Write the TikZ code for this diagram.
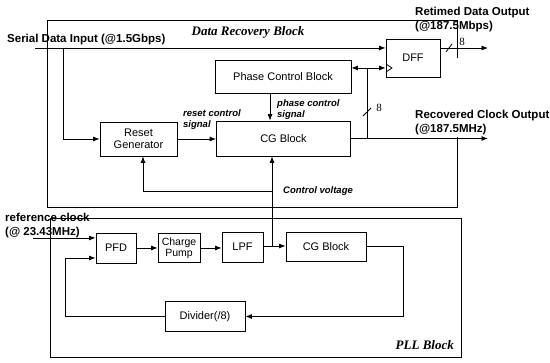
\documentclass[tikz,border=0pt]{standalone}
\usepackage{fontspec}
\setmainfont{Liberation Sans}
\newfontfamily\serifti{Liberation Serif}
\usetikzlibrary{arrows.meta}

\begin{document}
\begin{tikzpicture}[x=1pt,y=-1pt,
  blockbox/.style={draw,line width=0.8pt,inner sep=0pt,font=\fontsize{11}{12}\selectfont},
  wire/.style={line width=0.8pt},
  sig/.style={line width=0.8pt,-{Latex[length=6.5pt,width=5pt]}},
  iolabel/.style={anchor=west,align=left,inner sep=0pt,font=\bfseries\fontsize{11.5}{14}\selectfont},
  siglabel/.style={anchor=west,align=left,inner sep=0pt,font=\bfseries\itshape\fontsize{9.5}{10.5}\selectfont},
  frametitle/.style={inner sep=0pt,font=\serifti\bfseries\itshape\fontsize{13}{15}\selectfont},
  buswidth/.style={inner sep=0pt,font=\serifti\fontsize{11}{12}\selectfont}]
\useasboundingbox (0,0) rectangle (550,363);

% enclosing blocks
\draw[wire] (457,58) -- (457,20) -- (47,20) -- (47,207) -- (457,207) -- (457,137);
\draw[wire] (50,218) rectangle (461,357);
\node[frametitle] (drtitle) at (248,32) {Data Recovery Block};
\node[frametitle,anchor=east] (plltitle) at (454,345) {PLL Block};

% data recovery part
\node[blockbox,minimum width=136pt,minimum height=33pt] (phasectrl) at (283,76.5) {Phase Control Block};
\node[blockbox,minimum width=54pt,minimum height=38pt] (dff) at (413,58) {DFF};
\node[blockbox,minimum width=77pt,minimum height=34pt,align=center] (resetgen) at (138.5,139) {Reset\\Generator};
\node[blockbox,minimum width=134pt,minimum height=35pt] (cgdr) at (283.5,138.5) {CG Block};

% pll part
\node[blockbox,minimum width=40pt,minimum height=30pt] (pfd) at (116,248) {PFD};
\node[blockbox,minimum width=42pt,minimum height=29pt,align=center,font=\fontsize{10.5}{11}\selectfont] (cpump) at (179,248) {Charge\\Pump};
\node[blockbox,minimum width=41pt,minimum height=30pt] (lpf) at (242.5,247) {LPF};
\node[blockbox,minimum width=80pt,minimum height=29pt] (cgpll) at (326,246.5) {CG Block};
\node[blockbox,minimum width=80pt,minimum height=30pt] (divider) at (205,316.5) {Divider(/8)};

% serial data in
\coordinate (serin) at (35,48);
\coordinate (serbr) at (63,48);
\draw[sig] (serin) -- (dff.west |- serin);
\draw[sig] (serbr) |- (resetgen.west);
\node[iolabel] (serlbl) at (7,40) {Serial Data Input (@1.5Gbps)};

% retimed data out
\coordinate (dataout) at (488,48);
\draw[sig] (dff.east |- dataout) -- (dataout);
\draw[wire] (446,52) -- (452,44);
\node[buswidth] (dbus) at (462,42) {8};
\node[iolabel] (retlbl) at (415,20) {Retimed Data Output\\(@187.5Mbps)};

% recovered clock
\coordinate (clkout) at (488,138.5);
\coordinate (clkbr) at (367,138.5);
\coordinate (clkup) at (367,68);
\draw[sig] (cgdr.east) -- (clkout);
\draw[wire] (clkbr) -- (clkup);
\draw[sig] (clkup) -- (phasectrl.east |- clkup);
\draw[sig] (clkup) -- (dff.west |- clkup);
\draw[wire] (386,64) -- (392,68) -- (386,72);
\draw[wire] (363,116) -- (371,108);
\node[buswidth] (cbus) at (379,108) {8};
\node[iolabel] (reclbl) at (415,123) {Recovered Clock Output\\(@187.5MHz)};

% control signals
\draw[sig] ([xshift=-13pt]phasectrl.south) -- ([xshift=-13pt]phasectrl.south |- cgdr.north);
\node[siglabel] (phlbl) at (277,109.5) {phase control\\signal};
\draw[sig] (resetgen.east) -- (cgdr.west |- resetgen.east);
\node[siglabel] (rstlbl) at (183,119.5) {reset control\\signal};

% control voltage
\coordinate (cvjoin) at (272,246);
\coordinate (cvleft) at (272,191);
\draw[wire] (lpf.east |- cvjoin) -- (cvjoin);
\draw[sig] (cvjoin) -- (cvjoin |- cgdr.south);
\draw[sig] (cvleft) -| ([xshift=4.5pt]resetgen.south);
\node[siglabel] (cvlbl) at (283,191) {Control voltage};

% pll loop
\coordinate (refin) at (33,238);
\draw[sig] (refin) -- (pfd.west |- refin);
\node[iolabel] (reflbl) at (5,225.5) {reference clock\\(@ 23.43MHz)};
\draw[sig] (pfd.east) -- (cpump.west |- pfd.east);
\draw[sig] (cpump.east) -- (lpf.west |- cpump.east);
\draw[sig] (cvjoin) -- (cgpll.west |- cvjoin);
\coordinate (fbright) at (403,316.5);
\coordinate (fbleft) at (65,316.5);
\draw[sig] (cgpll.east) -| (fbright) -- (divider.east);
\draw[sig] (divider.west) -- (fbleft) |- (pfd.west |- 0,258);
\end{tikzpicture}
\end{document}
